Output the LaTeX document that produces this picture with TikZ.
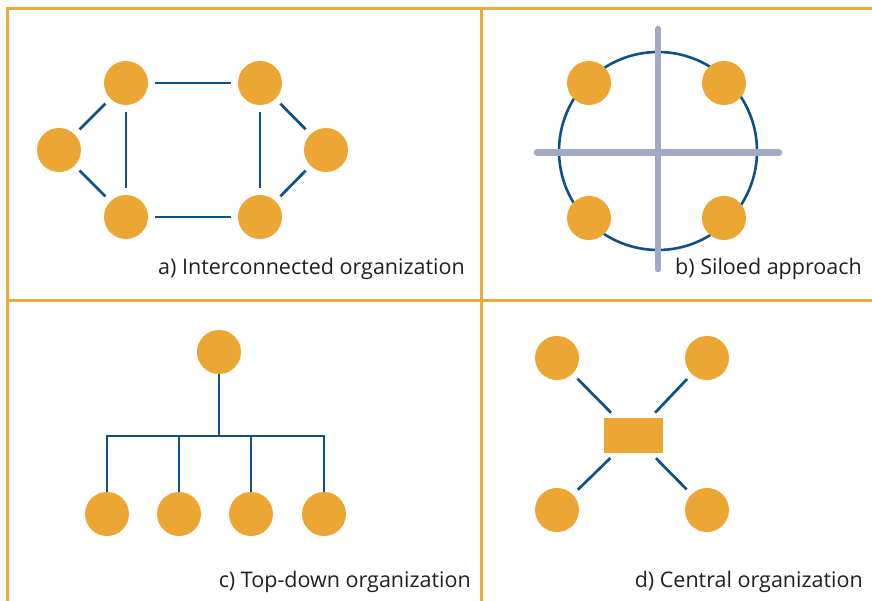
\documentclass[tikz,border=0pt]{standalone}
\usepackage{fontspec}
\setmainfont{Open Sans}
\definecolor{dotorange}{RGB}{236,166,52}
\definecolor{frameorange}{RGB}{237,170,60}
\definecolor{linkblue}{RGB}{14,80,136}
\definecolor{bargray}{RGB}{163,169,194}
\definecolor{labelgray}{RGB}{35,31,32}
\tikzset{
  dot/.style={circle, fill=dotorange, minimum size=44pt, inner sep=0pt, outer sep=0pt},
  hub/.style={rectangle, fill=dotorange, minimum width=59pt, minimum height=35pt, inner sep=0pt},
  link/.style={draw=linkblue, line width=2.7pt, shorten <=7pt, shorten >=7pt},
  treeline/.style={draw=linkblue, line width=2.7pt},
  ring/.style={circle, draw=linkblue, line width=2.6pt, minimum size=198pt, inner sep=0pt},
  silobar/.style={draw=bargray, line width=6.5pt, line cap=round},
  frame/.style={draw=frameorange, line width=3pt},
  caption/.style={font=\fontsize{21.5}{25}\selectfont, text=labelgray, inner sep=0pt, anchor=base east}
}
\begin{document}
\begin{tikzpicture}[x=1pt, y=-1pt]
\useasboundingbox (0,0) rectangle (872,601);

% panel frame and dividers
\coordinate (fTL) at (7,9);
\coordinate (fTR) at (872,9);
\coordinate (fBL) at (7,601);
\coordinate (mTop) at (481,9);
\coordinate (mBot) at (481,601);
\coordinate (hL) at (7,301);
\coordinate (hR) at (872,301);
\draw[frame] (fBL) -- (fTL) -- (fTR);
\draw[frame] (mTop) -- (mBot);
\draw[frame] (hL) -- (hR);

% a) interconnected organization
\node[dot] (atl) at (126,83) {};
\node[dot] (atr) at (260,83) {};
\node[dot] (al)  at (59,150) {};
\node[dot] (ar)  at (326,150) {};
\node[dot] (abl) at (126,217) {};
\node[dot] (abr) at (260,217) {};
\draw[link] (atl) -- (atr);
\draw[link] (abl) -- (abr);
\draw[link] (atl) -- (abl);
\draw[link] (atr) -- (abr);
\draw[link] (al) -- (atl);
\draw[link] (al) -- (abl);
\draw[link] (ar) -- (atr);
\draw[link] (ar) -- (abr);
\node[caption] (acap) at (465,275) {a) Interconnected organization};

% b) siloed approach
\node[ring] (bring) at (658,151) {};
\coordinate (vTop) at (658,29);
\coordinate (vBot) at (658,269);
\coordinate (hLeft) at (537,152.5);
\coordinate (hRight) at (779,152.5);
\draw[silobar] (hLeft) -- (hRight);
\draw[silobar] (vTop) -- (vBot);
\node[dot] (btl) at (589,83) {};
\node[dot] (btr) at (724,83) {};
\node[dot] (bbl) at (589,218) {};
\node[dot] (bbr) at (724,218) {};
\node[caption] (bcap) at (862,275) {b) Siloed approach};

% c) top-down organization
\node[dot] (ctop) at (219,352) {};
\node[dot] (c1) at (107,514) {};
\node[dot] (c2) at (179,514) {};
\node[dot] (c3) at (251,514) {};
\node[dot] (c4) at (324,514) {};
\coordinate (bus) at (219,436);
\draw[treeline] (ctop.south) -- (ctop |- bus);
\draw[treeline] (c1.north) -- (c1 |- bus) -- (c4 |- bus) -- (c4.north);
\draw[treeline] (c2.north) -- (c2 |- bus);
\draw[treeline] (c3.north) -- (c3 |- bus);
\node[caption] (ccap) at (471,587) {c) Top-down organization};

% d) central organization
\node[hub] (dhub) at (633.5,435.5) {};
\node[dot] (dtl) at (557,358) {};
\node[dot] (dtr) at (707,358) {};
\node[dot] (dbl) at (557,510) {};
\node[dot] (dbr) at (707,510) {};
\draw[link] (dtl) -- (dhub);
\draw[link] (dtr) -- (dhub);
\draw[link] (dbl) -- (dhub);
\draw[link] (dbr) -- (dhub);
\node[caption] (dcap) at (863,587) {d) Central organization};
\end{tikzpicture}
\end{document}
